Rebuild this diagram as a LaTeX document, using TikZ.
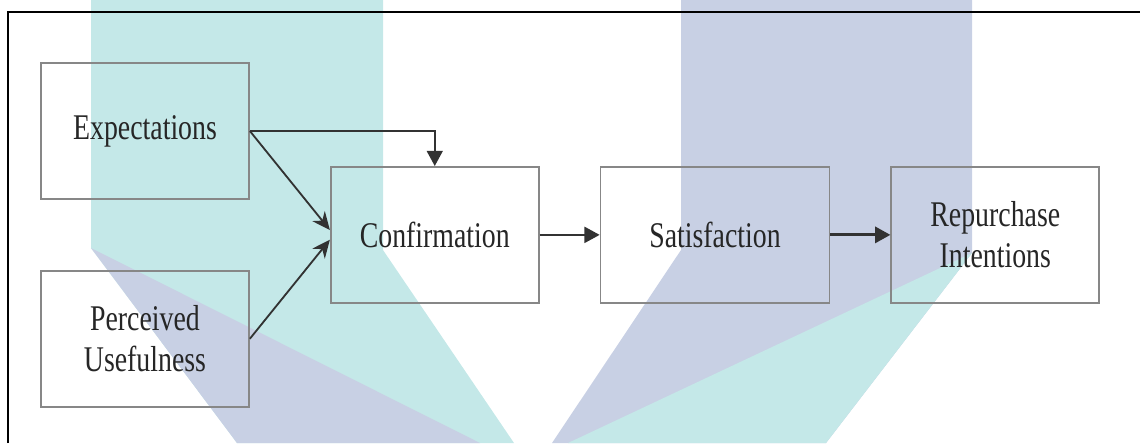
\documentclass[tikz,border=0pt]{standalone}
\usepackage{fontspec}
\setmainfont[FakeStretch=0.77]{Liberation Serif}
\usetikzlibrary{arrows.meta, positioning, calc}
\definecolor{markteal}{RGB}{196,232,232}
\definecolor{markblue}{RGB}{200,208,228}
\definecolor{boxgray}{RGB}{135,135,135}
\definecolor{arrowdark}{RGB}{50,50,50}

\begin{document}
\begin{tikzpicture}[
    x=0.025cm, y=-0.025cm,
    node distance=1.75cm and 1.5cm,
    box/.style={rectangle, draw=boxgray, line width=1.2pt, text width=4.8cm, align=center,
                minimum width=5.2cm, minimum height=3.4cm, inner sep=0pt,
                font=\fontsize{25.7}{29.5}\selectfont, text=black!85},
    arrow/.style={-{Triangle[length=0.38cm, width=0.4cm]}, line width=1.5pt, arrowdark},
    slant/.style={-{Stealth[length=0.45cm, width=0.4cm]}, line width=1.3pt, arrowdark}
]
\useasboundingbox (0,0) rectangle (1140,443);

% watermark in the background
\fill[markteal] (91,0) -- (383,0) -- (383,250) -- (514,443) -- (237,443) -- (91,248) -- cycle;
\fill[markblue] (91,248) -- (480,443) -- (237,443) -- cycle;
\fill[markblue] (681,0) -- (972,0) -- (972,253) -- (826,443) -- (552,443) -- (681,250) -- cycle;
\fill[markteal] (972,253) -- (826,443) -- (568,443) -- cycle;

% frame
\draw[line width=1.2pt] (8,443) -- (8,12) -- (1140,12);

\node[box] (expect) at (145,131) {Expectations};
\node[box, below=of expect] (percv) {Perceived\\Usefulness};
\coordinate (mid) at ($(expect.east)!0.5!(percv.east)$);
\node[box, right=2.0cm of mid] (confirm) {Confirmation};
\node[box, right=of confirm, minimum width=5.725cm] (satisf) {Satisfaction};
\node[box, right=of satisf] (repurch) {Repurchase\\Intentions};

\draw[slant] (expect.east) -- ([yshift=0.12cm]confirm.west);
\draw[slant] (percv.east) -- ([yshift=-0.12cm]confirm.west);
\draw[arrow, line width=1.2pt] (expect.east) -| (confirm.north);
\draw[arrow] (confirm) -- (satisf);
\draw[arrow, line width=2pt] (satisf) -- (repurch);
\end{tikzpicture}
\end{document}
